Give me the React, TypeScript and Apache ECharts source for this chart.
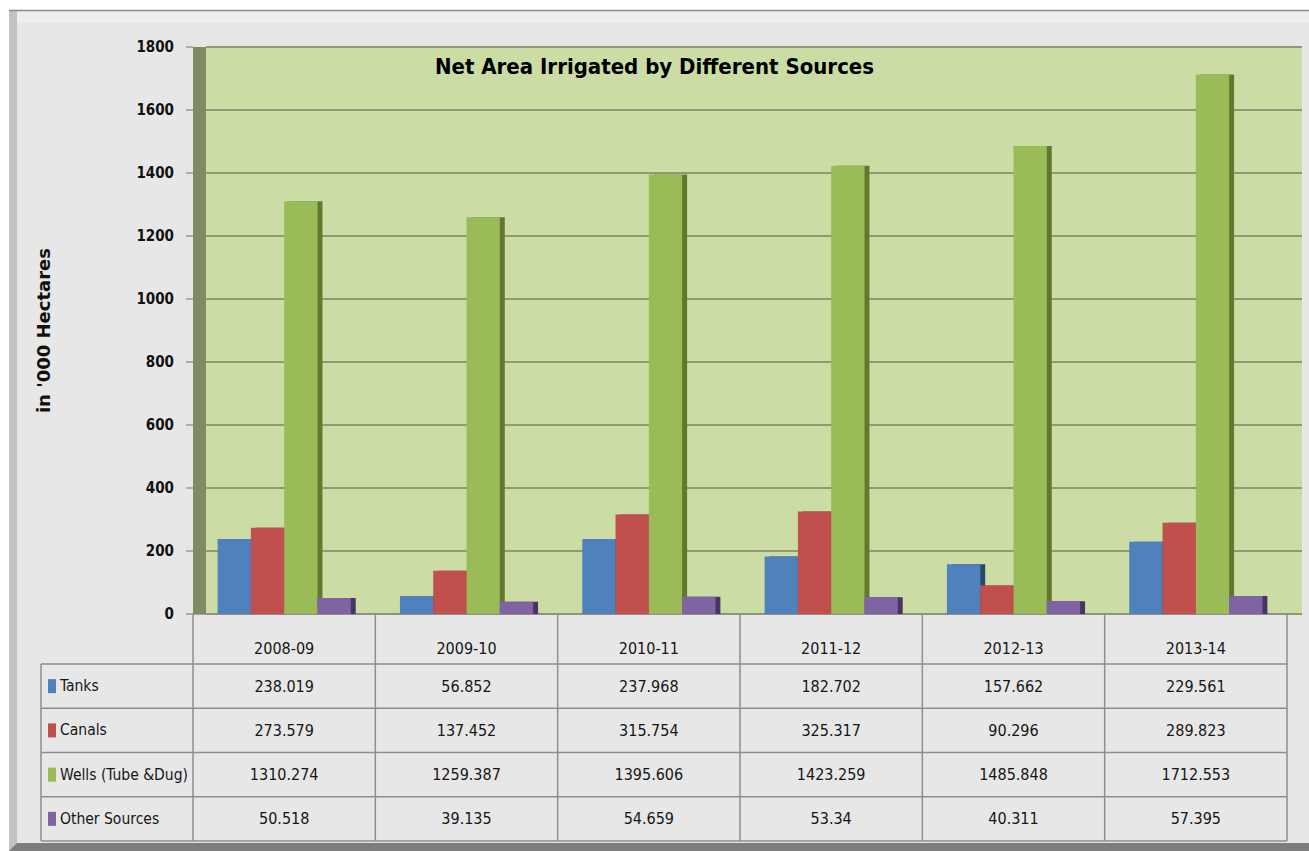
import React, { useEffect, useRef } from 'react';
import * as echarts from 'echarts';

// ---------- data ----------
const categories = ['2008-09', '2009-10', '2010-11', '2011-12', '2012-13', '2013-14'];
const seriesNames = ['Tanks', 'Canals', 'Wells (Tube &Dug)', 'Other Sources'];
const tanks = [238.019, 56.852, 237.968, 182.702, 157.662, 229.561];
const canals = [273.579, 137.452, 315.754, 325.317, 90.296, 289.823];
const wells = [1310.274, 1259.387, 1395.606, 1423.259, 1485.848, 1712.553];
const otherSources = [50.518, 39.135, 54.659, 53.34, 40.311, 57.395];
const yMin = 0;
const yMax = 1800;
const yInterval = 200;
const chartTitle = 'Net Area Irrigated by Different Sources';
const yAxisName = "in '000 Hectares";

// ---------- styles / layout ----------
const seriesColors = ['#4f81bd', '#c0504d', '#9bbb59', '#8064a2'];
const sideColors = ['#27466e', '#7b2c2a', '#60792f', '#46365f'];
const W = 1309;
const H = 851;
const GRID_LEFT = 193;
const GRID_RIGHT_X = 1287;
const GRID_TOP = 47;
const GRID_BOTTOM_Y = 614;
const WALL_W = 13;
const BACK_RIGHT_X = 1302;
const HEADER_H = 50;
const ROW_H = 44.25;
const LEGEND_COL_LEFT = 41;
const NARROW = "'Liberation Sans Narrow', 'DejaVu Sans Condensed', sans-serif";
const LINE_COLOR = '#8e8e8e';
const TEXT_COLOR = '#161616';
const TABLE_FONT = 16;

export default function App() {
  const ref = useRef<HTMLDivElement>(null);

  useEffect(() => {
    if (!ref.current) return;
    const chart = echarts.init(ref.current, undefined, { renderer: 'svg' });
    const seriesData = [tanks, canals, wells, otherSources];
    const headerBottomY = GRID_BOTTOM_Y + HEADER_H;

    chart.setOption({
      animation: false,
      backgroundColor: '#e7e7e7',
      title: {
        text: chartTitle,
        left: 'center',
        top: 55,
        padding: 0,
        textStyle: { fontFamily: NARROW, fontWeight: 'bold', fontSize: 22, color: '#000' },
      },
      legend: seriesNames.map((name, i) => ({
        data: [name],
        orient: 'vertical',
        left: 48,
        top: headerBottomY + (i + 0.5) * ROW_H - 8,
        padding: 0,
        itemWidth: 8,
        itemHeight: 14,
        itemGap: 4,
        icon: 'rect',
        selectedMode: false,
        itemStyle: { shadowColor: 'rgba(0,0,0,0)', shadowOffsetX: 0, shadowBlur: 0 },
        textStyle: { fontFamily: NARROW, fontSize: 15.5, lineHeight: 16, color: TEXT_COLOR, padding: [0, 0, 0, -1] },
      })),
      grid: [
        { left: GRID_LEFT, right: W - GRID_RIGHT_X, top: GRID_TOP, bottom: H - GRID_BOTTOM_Y, show: false },
        {
          left: GRID_LEFT + WALL_W,
          right: W - BACK_RIGHT_X,
          top: GRID_TOP,
          bottom: H - GRID_BOTTOM_Y,
          show: true,
          backgroundColor: '#cbdca4',
          borderWidth: 0,
        },
      ],
      xAxis: [
        {
          type: 'category',
          gridIndex: 0,
          data: categories,
          axisLine: { show: true, lineStyle: { color: LINE_COLOR, width: 1.5 } },
          axisTick: { show: false },
          axisLabel: { interval: 0, margin: 26, fontFamily: NARROW, fontSize: TABLE_FONT, color: TEXT_COLOR },
          splitLine: { show: false },
        },
        { type: 'value', gridIndex: 1, show: false, min: 0, max: 1 },
      ],
      yAxis: [
        {
          type: 'value',
          gridIndex: 0,
          min: yMin,
          max: yMax,
          interval: yInterval,
          name: yAxisName,
          nameLocation: 'middle',
          nameRotate: 90,
          nameGap: 141,
          nameTextStyle: { fontFamily: "'DejaVu Sans', Verdana, sans-serif", fontWeight: 'bold', fontSize: 18, color: '#111' },
          axisLine: { show: false },
          axisTick: { show: true, length: 7, lineStyle: { color: '#999', width: 1.5 } },
          axisLabel: {
            margin: 19,
            fontFamily: NARROW,
            fontWeight: 'bold',
            fontSize: 15,
            color: '#111',
            formatter: (v: number) => String(v),
          },
          splitLine: { show: false },
        },
        {
          type: 'value',
          gridIndex: 1,
          min: yMin,
          max: yMax,
          interval: yInterval,
          axisLine: { show: false },
          axisTick: { show: false },
          axisLabel: { show: false },
          splitLine: { show: true, lineStyle: { color: '#8d9a74', width: 2 } },
        },
      ],
      series: seriesData.map((d, i) => ({
        type: 'bar',
        name: seriesNames[i],
        data: d,
        xAxisIndex: 0,
        yAxisIndex: 0,
        barGap: '0%',
        barCategoryGap: '27%',
        itemStyle: {
          color: seriesColors[i],
          shadowColor: sideColors[i],
          shadowOffsetX: 5,
          shadowOffsetY: 0,
          shadowBlur: 0,
        },
        emphasis: { disabled: true },
      })),
    });

    // ---------- table + frame decoration via graphic ----------
    const n = categories.length;
    const centers = categories.map((_, i) => chart.convertToPixel({ xAxisIndex: 0 }, i) as number);
    const band = n > 1 ? centers[1] - centers[0] : GRID_RIGHT_X - GRID_LEFT;
    const y0 = chart.convertToPixel({ yAxisIndex: 0 }, 0) as number;
    const headerBottom = y0 + HEADER_H;
    const tableBottom = headerBottom + ROW_H * seriesNames.length;
    const leftEdge = centers[0] - band / 2;
    const rightEdge = centers[n - 1] + band / 2;

    const elements: any[] = [];
    // frame
    elements.push({ type: 'rect', shape: { x: 0, y: 0, width: W, height: 10 }, style: { fill: '#ffffff' }, silent: true });
    elements.push({ type: 'rect', shape: { x: 0, y: 0, width: 9, height: H }, style: { fill: '#ffffff' }, silent: true });
    elements.push({ type: 'rect', shape: { x: 9, y: 10, width: 8, height: H - 10 }, style: { fill: '#c3c3c3' }, silent: true });
    elements.push({ type: 'rect', shape: { x: 17, y: 11, width: W - 17, height: 12 }, style: { fill: '#eeeeee' }, silent: true });
    elements.push({ type: 'line', shape: { x1: 9, y1: 10.5, x2: W, y2: 10.5 }, style: { stroke: '#8a8a8a', lineWidth: 1.5 }, silent: true });
    elements.push({ type: 'polygon', shape: { points: [[17, 843], [W, 843], [W, H], [9, H]] }, style: { fill: '#7d7d7d' }, silent: true });
    // 3D wall
    elements.push({
      type: 'rect',
      z: 1,
      shape: { x: leftEdge, y: GRID_TOP, width: WALL_W, height: y0 - GRID_TOP },
      style: { fill: '#7f8b60' },
      silent: true,
    });
    // table lines
    for (let k = 0; k <= n; k++) {
      const x = leftEdge + k * band;
      elements.push({ type: 'line', shape: { x1: x, y1: y0, x2: x, y2: tableBottom }, style: { stroke: LINE_COLOR, lineWidth: 1.5 }, silent: true });
    }
    elements.push({ type: 'line', shape: { x1: LEGEND_COL_LEFT, y1: headerBottom, x2: LEGEND_COL_LEFT, y2: tableBottom }, style: { stroke: LINE_COLOR, lineWidth: 1.5 }, silent: true });
    for (let r = 0; r <= seriesNames.length; r++) {
      const y = headerBottom + r * ROW_H;
      elements.push({ type: 'line', shape: { x1: LEGEND_COL_LEFT, y1: y, x2: rightEdge, y2: y }, style: { stroke: LINE_COLOR, lineWidth: 1.5 }, silent: true });
    }
    // table values
    seriesData.forEach((d, r) => {
      d.forEach((v, c) => {
        elements.push({
          type: 'text',
          x: centers[c],
          y: headerBottom + (r + 0.5) * ROW_H,
          silent: true,
          style: {
            text: String(v),
            align: 'center',
            verticalAlign: 'middle',
            fontFamily: NARROW,
            fontSize: TABLE_FONT,
            fill: TEXT_COLOR,
          },
        });
      });
    });

    chart.setOption({ graphic: { elements } });

    return () => chart.dispose();
  }, []);

  return <div ref={ref} style={{ position: 'fixed', left: 0, top: 0, width: W, height: H }} />;
}
